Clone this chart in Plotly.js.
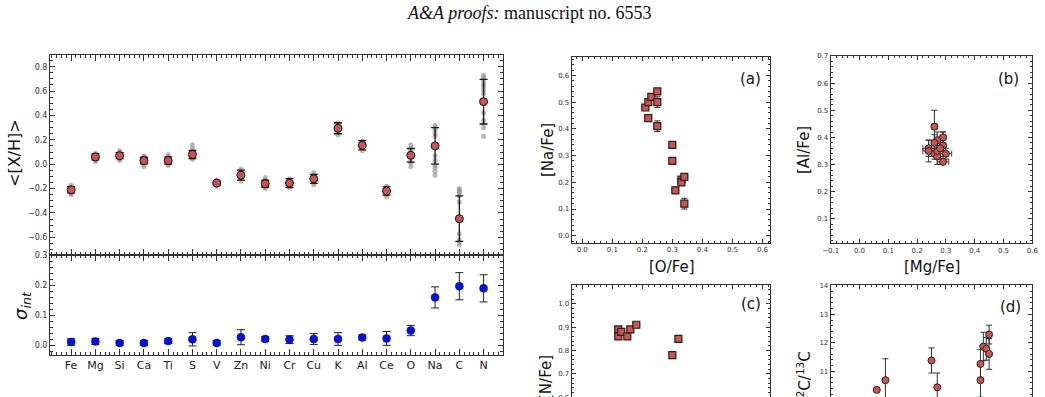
<!DOCTYPE html>
<html>
<head>
<meta charset="utf-8">
<script src="https://cdn.plot.ly/plotly-3.0.1.min.js"></script>
<style>
html, body { margin:0; padding:0; width:1045px; height:397px; overflow:hidden; background:#fff; }
#chart { width:1045px; height:560px; }
</style>
</head>
<body>
<div id="chart"></div>
<script>
// ---------- DATA ----------
const categories = ['Fe','Mg','Si','Ca','Ti','S','V','Zn','Ni','Cr','Cu','K','Al','Ce','O','Na','C','N'];
const meanXH = [-0.21,0.06,0.07,0.03,0.03,0.08,-0.155,-0.09,-0.16,-0.155,-0.12,0.295,0.155,-0.22,0.073,0.15,-0.447,0.513];
const errXH  = [0.026,0.025,0.025,0.027,0.03,0.034,0.015,0.041,0.029,0.036,0.037,0.045,0.038,0.034,0.056,0.15,0.187,0.183];
const sigmaInt = [0.012,0.014,0.009,0.009,0.015,0.021,0.009,0.028,0.022,0.02,0.022,0.022,0.027,0.024,0.05,0.16,0.197,0.19];
const errSigma = [0.011,0.01,0.008,0.008,0.008,0.022,0.008,0.025,0.008,0.013,0.018,0.021,0.008,0.023,0.017,0.035,0.045,0.045];
// individual star abundances, one list per element (same order as categories)
const starXH = [
  [-0.17,-0.19,-0.20,-0.21,-0.21,-0.22,-0.22,-0.23,-0.24,-0.25,-0.20,-0.19],
  [0.09,0.08,0.07,0.06,0.06,0.05,0.05,0.04,0.03,0.02,0.07,0.06],
  [0.11,0.10,0.09,0.08,0.07,0.07,0.06,0.05,0.04,0.03,0.08,0.06],
  [0.07,0.06,0.05,0.04,0.03,0.02,0.02,0.01,0.00,-0.02,0.03,0.04],
  [0.08,0.06,0.05,0.04,0.03,0.02,0.01,0.00,-0.01,0.02,0.03,0.04],
  [0.16,0.13,0.11,0.10,0.09,0.08,0.07,0.06,0.05,0.04,0.08,0.06],
  [-0.13,-0.14,-0.14,-0.15,-0.15,-0.15,-0.16,-0.16,-0.17,-0.18,-0.15,-0.16],
  [-0.04,-0.05,-0.07,-0.08,-0.09,-0.09,-0.10,-0.11,-0.12,-0.14,-0.08,-0.10],
  [-0.11,-0.13,-0.14,-0.15,-0.16,-0.16,-0.17,-0.18,-0.19,-0.20,-0.16,-0.17],
  [-0.12,-0.13,-0.14,-0.15,-0.15,-0.16,-0.16,-0.17,-0.18,-0.19,-0.14,-0.16],
  [-0.07,-0.09,-0.10,-0.11,-0.12,-0.12,-0.13,-0.14,-0.15,-0.17,-0.11,-0.13],
  [0.34,0.33,0.31,0.30,0.29,0.29,0.28,0.27,0.26,0.24,0.30,0.28],
  [0.19,0.18,0.17,0.16,0.15,0.15,0.14,0.13,0.13,0.11,0.16,0.14],
  [-0.18,-0.19,-0.20,-0.21,-0.22,-0.22,-0.23,-0.24,-0.25,-0.27,-0.21,-0.23],
  [0.16,0.13,0.11,0.09,0.07,0.05,0.02,0.01,-0.02],
  [0.32,0.30,0.28,0.25,0.23,0.14,0.07,0.03,-0.01,-0.03,-0.06,-0.09],
  [-0.20,-0.21,-0.23,-0.24,-0.26,-0.31,-0.45,-0.57,-0.62,-0.64,-0.66],
  [0.73,0.71,0.69,0.66,0.64,0.61,0.58,0.51,0.42,0.36,0.33,0.30,0.23]
];
// panel (a)
const aOFe   = [0.21,0.22,0.22,0.23,0.25,0.25,0.25,0.30,0.30,0.31,0.33,0.33,0.34,0.34];
const aNaFe  = [0.48,0.50,0.44,0.52,0.54,0.50,0.41,0.34,0.28,0.17,0.21,0.20,0.22,0.12];
const aErrO  = [0.01,0.01,0.01,0.01,0.01,0.01,0.01,0.01,0.01,0.01,0.01,0.01,0.01,0.01];
const aErrNa = [0.01,0.01,0.01,0.01,0.01,0.02,0.02,0.01,0.01,0.01,0.01,0.01,0.01,0.02];
// panel (b)
const bMgFe  = [0.26,0.29,0.27,0.29,0.26,0.24,0.24,0.26,0.27,0.30,0.29,0.27,0.28];
const bAlFe  = [0.44,0.40,0.39,0.37,0.38,0.36,0.35,0.34,0.33,0.34,0.31,0.35,0.36];
const bErrMg = [0.01,0.01,0.01,0.01,0.01,0.02,0.02,0.01,0.01,0.02,0.02,0.01,0.01];
const bErrAl = [0.06,0.02,0.03,0.05,0.03,0.03,0.04,0.02,0.03,0.02,0.01,0.02,0.03];
// panel (c)
const cX    = [0.12,0.12,0.13,0.15,0.16,0.18,0.30,0.32];
const cNFe  = [0.89,0.86,0.88,0.86,0.89,0.91,0.78,0.85];
// panel (d)
const dX     = [0.06,0.09,0.25,0.27,0.42,0.42,0.43,0.44,0.45,0.45];
const dRatio = [10.35,10.69,11.38,10.44,11.26,10.69,11.87,11.79,12.29,11.61];
const dErr   = [0.05,0.75,0.44,0.50,0.50,0.60,0.50,0.40,0.33,0.54];
const dErrX  = [0.005,0.005,0.005,0.005,0.005,0.005,0.005,0.005,0.005,0.005];

// ---------- LAYOUT HELPERS ----------
const W = 1045, H = 560;
const px = x => x / W;
const py = y => 1 - y / H;
const FONT = 'DejaVu Sans, sans-serif';
const RED = '#d0524f';
const idx = categories.map((c, i) => i);

function axisBase(extra) {
  return Object.assign({
    showline: true, linecolor: '#333', linewidth: 1, mirror: 'ticks',
    ticks: 'inside', ticklen: 5, tickcolor: '#333', tickwidth: 1,
    showgrid: false, zeroline: false,
    tickfont: { family: FONT, size: 8, color: '#333' }
  }, extra);
}

// ---------- TRACES ----------
const starX = [], starY = [];
starXH.forEach((arr, i) => arr.forEach(v => { starX.push(i); starY.push(v); }));

const traces = [
  { type: 'scatter', mode: 'markers', x: starX, y: starY, xaxis: 'x2', yaxis: 'y2',
    marker: { size: 5, color: 'rgba(140,140,140,0.6)' }, hoverinfo: 'skip' },
  { type: 'scatter', mode: 'markers', x: idx, y: meanXH, xaxis: 'x2', yaxis: 'y2',
    error_y: { type: 'data', array: errXH, color: '#1a1a1a', thickness: 1.3, width: 4 },
    marker: { size: 8, color: RED, line: { color: '#111', width: 1 } } },
  { type: 'scatter', mode: 'markers', x: idx, y: sigmaInt, xaxis: 'x', yaxis: 'y',
    error_y: { type: 'data', array: errSigma, color: '#222', thickness: 1, width: 4 },
    marker: { size: 8, color: '#0010e8', line: { color: '#0a0a60', width: 0.5 } } },
  { type: 'scatter', mode: 'markers', x: aOFe, y: aNaFe, xaxis: 'x3', yaxis: 'y3',
    error_x: { type: 'data', array: aErrO, color: '#333', thickness: 1, width: 3 },
    error_y: { type: 'data', array: aErrNa, color: '#333', thickness: 1, width: 3 },
    marker: { symbol: 'square', size: 7, color: RED, line: { color: '#222', width: 1.2 } } },
  { type: 'scatter', mode: 'markers', x: bMgFe, y: bAlFe, xaxis: 'x4', yaxis: 'y4',
    error_x: { type: 'data', array: bErrMg, color: '#444', thickness: 1, width: 3 },
    error_y: { type: 'data', array: bErrAl, color: '#333', thickness: 1, width: 3 },
    marker: { size: 7, color: RED, line: { color: '#222', width: 1 } } },
  { type: 'scatter', mode: 'markers', x: cX, y: cNFe, xaxis: 'x5', yaxis: 'y5',
    marker: { symbol: 'square', size: 7, color: RED, line: { color: '#222', width: 1.2 } } },
  { type: 'scatter', mode: 'markers', x: dX, y: dRatio, xaxis: 'x6', yaxis: 'y6',
    error_x: { type: 'data', array: dErrX, color: '#555', thickness: 1, width: 3 },
    error_y: { type: 'data', array: dErr, color: '#333', thickness: 1, width: 3 },
    marker: { size: 7, color: RED, line: { color: '#222', width: 1 } } }
];

// ---------- AXES ----------
const mainX = [px(50), px(503)];
const aX = [px(571.7), px(770)];
const bX = [px(830.7), px(1032.3)];
const smallTicks = { family: FONT, size: 7, color: '#333' };
const minorSmall = d => ({ tickmode: 'linear', tick0: 0, dtick: d, ticks: 'inside', ticklen: 2, tickcolor: '#333' });

const layout = {
  width: W, height: H,
  margin: { l: 0, r: 0, t: 0, b: 0 },
  paper_bgcolor: '#fff', plot_bgcolor: '#fff',
  showlegend: false,
  font: { family: FONT, color: '#222' },
  xaxis: axisBase({ domain: mainX, anchor: 'y', range: [-0.87, 17.8],
    tickmode: 'array', tickvals: idx, ticktext: categories,
    tickfont: { family: FONT, size: 11, color: '#222' }, ticklen: 6,
    minor: { tickmode: 'linear', tick0: 0, dtick: 0.2, ticks: 'inside', ticklen: 3, tickcolor: '#333' } }),
  yaxis: axisBase({ domain: [py(355), py(255)], anchor: 'x', range: [-0.031, 0.3005],
    tickmode: 'linear', tick0: 0, dtick: 0.1, tickformat: '.1f',
    minor: { tickmode: 'linear', tick0: 0, dtick: 0.02, ticks: 'inside', ticklen: 3, tickcolor: '#333' } }),
  xaxis2: axisBase({ domain: mainX, anchor: 'y2', matches: 'x', showticklabels: false,
    tickmode: 'array', tickvals: idx, ticklen: 6,
    minor: { tickmode: 'linear', tick0: 0, dtick: 0.2, ticks: 'inside', ticklen: 3, tickcolor: '#333' } }),
  yaxis2: axisBase({ domain: [py(255), py(55)], anchor: 'x2', range: [-0.745, 0.896],
    tickmode: 'linear', tick0: 0, dtick: 0.2, tickformat: '.1f',
    minor: { tickmode: 'linear', tick0: 0, dtick: 0.05, ticks: 'inside', ticklen: 3, tickcolor: '#333' } }),
  xaxis3: axisBase({ domain: aX, anchor: 'y3', range: [-0.035, 0.625], tickmode: 'linear', tick0: 0, dtick: 0.1,
    tickformat: '.1f', tickfont: smallTicks, ticklen: 4, minor: minorSmall(0.02) }),
  yaxis3: axisBase({ domain: [py(242.7), py(56.7)], anchor: 'x3', range: [-0.026, 0.67], tickmode: 'linear', tick0: 0, dtick: 0.1,
    tickformat: '.1f', tickfont: smallTicks, ticklen: 4, minor: minorSmall(0.02) }),
  xaxis4: axisBase({ domain: bX, anchor: 'y4', range: [-0.1, 0.6], tickmode: 'linear', tick0: 0, dtick: 0.1,
    tickformat: '.1f', tickfont: smallTicks, ticklen: 4, minor: minorSmall(0.02) }),
  yaxis4: axisBase({ domain: [py(243.3), py(56)], anchor: 'x4', range: [0.01, 0.7], tickmode: 'linear', tick0: 0, dtick: 0.1,
    tickformat: '.1f', tickfont: smallTicks, ticklen: 4, minor: minorSmall(0.02) }),
  xaxis5: axisBase({ domain: aX, anchor: 'y5', range: [-0.035, 0.625], tickmode: 'linear', tick0: 0, dtick: 0.1,
    showticklabels: false, ticklen: 4, minor: minorSmall(0.02) }),
  yaxis5: axisBase({ domain: [py(471), py(285)], anchor: 'x5', range: [0.285, 1.08], tickmode: 'linear', tick0: 0, dtick: 0.1,
    tickformat: '.1f', tickfont: smallTicks, ticklen: 4, minor: minorSmall(0.02) }),
  xaxis6: axisBase({ domain: bX, anchor: 'y6', range: [-0.1, 0.6], tickmode: 'linear', tick0: 0, dtick: 0.1,
    showticklabels: false, ticklen: 4, minor: minorSmall(0.02) }),
  yaxis6: axisBase({ domain: [py(471), py(285)], anchor: 'x6', range: [7.5, 14.03], tickmode: 'linear', tick0: 0, dtick: 1,
    tickformat: 'd', tickfont: smallTicks, ticklen: 4, minor: minorSmall(0.2) }),
  annotations: [
    { text: '<i>A&amp;A proofs:</i> manuscript no. 6553', x: px(529), y: py(13), xref: 'paper', yref: 'paper',
      showarrow: false, xanchor: 'center', yanchor: 'middle',
      font: { family: 'Liberation Serif, Times New Roman, serif', size: 18, color: '#111' } },
    { text: '&lt;[X/H]&gt;', x: px(15), y: py(153), xref: 'paper', yref: 'paper', textangle: -90,
      showarrow: false, xanchor: 'center', yanchor: 'middle', font: { family: FONT, size: 16, color: '#111' } },
    { text: '<i>σ</i><sub><i>int</i></sub>', x: px(22), y: py(306), xref: 'paper', yref: 'paper', textangle: -90,
      showarrow: false, xanchor: 'center', yanchor: 'middle', font: { family: FONT, size: 18, color: '#111' } },
    { text: '[O/Fe]', x: px(672), y: py(267), xref: 'paper', yref: 'paper',
      showarrow: false, xanchor: 'center', yanchor: 'middle', font: { family: FONT, size: 15, color: '#111' } },
    { text: '[Mg/Fe]', x: px(932), y: py(267), xref: 'paper', yref: 'paper',
      showarrow: false, xanchor: 'center', yanchor: 'middle', font: { family: FONT, size: 15, color: '#111' } },
    { text: '[Na/Fe]', x: px(548), y: py(150), xref: 'paper', yref: 'paper', textangle: -90,
      showarrow: false, xanchor: 'center', yanchor: 'middle', font: { family: FONT, size: 15, color: '#111' } },
    { text: '[Al/Fe]', x: px(804), y: py(150), xref: 'paper', yref: 'paper', textangle: -90,
      showarrow: false, xanchor: 'center', yanchor: 'middle', font: { family: FONT, size: 15, color: '#111' } },
    { text: '[N/Fe]', x: px(546), y: py(378), xref: 'paper', yref: 'paper', textangle: -90,
      showarrow: false, xanchor: 'center', yanchor: 'middle', font: { family: FONT, size: 15, color: '#111' } },
    { text: '<sup>12</sup>C/<sup>13</sup>C', x: px(804), y: py(378), xref: 'paper', yref: 'paper', textangle: -90,
      showarrow: false, xanchor: 'center', yanchor: 'middle', font: { family: FONT, size: 15, color: '#111' } },
    { text: '(a)', x: px(750), y: py(79), xref: 'paper', yref: 'paper',
      showarrow: false, xanchor: 'center', yanchor: 'middle', font: { family: FONT, size: 15, color: '#111' } },
    { text: '(b)', x: px(1008), y: py(79), xref: 'paper', yref: 'paper',
      showarrow: false, xanchor: 'center', yanchor: 'middle', font: { family: FONT, size: 15, color: '#111' } },
    { text: '(c)', x: px(751), y: py(304), xref: 'paper', yref: 'paper',
      showarrow: false, xanchor: 'center', yanchor: 'middle', font: { family: FONT, size: 15, color: '#111' } },
    { text: '(d)', x: px(1010), y: py(307), xref: 'paper', yref: 'paper',
      showarrow: false, xanchor: 'center', yanchor: 'middle', font: { family: FONT, size: 15, color: '#111' } }
  ]
};

Plotly.newPlot('chart', traces, layout, { displayModeBar: false, staticPlot: true });
</script>
</body>
</html>
